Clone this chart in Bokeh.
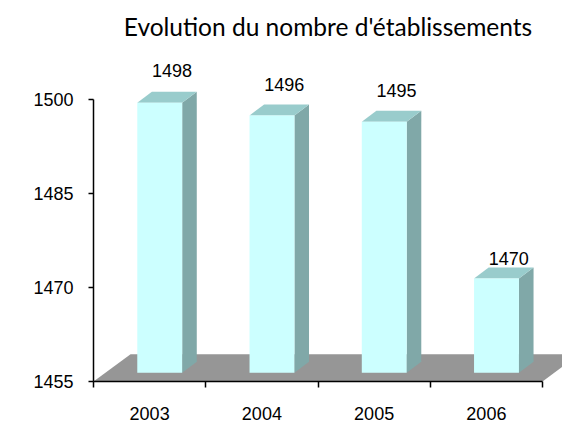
from bokeh.plotting import figure
from bokeh.models import Range1d, FixedTicker, Title, LinearAxis, ColumnDataSource
from bokeh.embed import file_html
from bokeh.resources import INLINE
from bokeh.core.properties import value

# ---- data ----
years = ["2003", "2004", "2005", "2006"]
counts = [1498, 1496, 1495, 1470]
y_ticks = [1455, 1470, 1485, 1500]
y_base = 1455
y_top_tick = 1500
chart_title = "Evolution du nombre d'établissements"

# ---- 3D styling constants (offsets in data units) ----
HALF_W = 0.2
SHIFT_X, SHIFT_Y = 0.09, 1.4      # bar front sits a little back on the floor
DEPTH_X, DEPTH_Y = 0.13, 1.75     # bar depth
FLOOR_X, FLOOR_Y = 0.33, 4.36     # floor depth
LABEL_SCALE, LABEL_LIFT, LABEL_DX = 1.068, 3.57, 0.11  # perspective of labels

FRONT = "#ccffff"
SIDE = "#80a8a8"
TOP = "#99cccc"
FLOOR = "#969696"

n = len(years)
centers = [i + 0.5 for i in range(n)]
bounds_x = list(range(n + 1))

p = figure(width=562, height=422, output_backend="svg", toolbar_location=None,
           x_range=Range1d(0, 4.178), y_range=Range1d(1455, 1507.9),
           min_border_left=93, min_border_right=0, min_border_top=48,
           min_border_bottom=40, x_axis_type=None, y_axis_type=None)
p.outline_line_color = None
p.background_fill_color = "white"
p.border_fill_color = "white"

# floor
p.patch([0, n, n + FLOOR_X, FLOOR_X],
        [y_base, y_base, y_base + FLOOR_Y, y_base + FLOOR_Y],
        fill_color=FLOOR, line_color=None)

# bars
fl = [c + SHIFT_X - HALF_W for c in centers]
fr = [c + SHIFT_X + HALF_W for c in centers]
fb = [y_base + SHIFT_Y] * n
ft = [v + SHIFT_Y for v in counts]

side_xs = [[r, r + DEPTH_X, r + DEPTH_X, r] for r in fr]
side_ys = [[b, b + DEPTH_Y, t + DEPTH_Y, t] for b, t in zip(fb, ft)]
top_xs = [[l, l + DEPTH_X, r + DEPTH_X, r] for l, r in zip(fl, fr)]
top_ys = [[t, t + DEPTH_Y, t + DEPTH_Y, t] for t in ft]

p.patches(side_xs, side_ys, fill_color=SIDE, line_color=None)
p.patches(top_xs, top_ys, fill_color=TOP, line_color=None)
p.quad(left=fl, right=fr, bottom=fb, top=ft, fill_color=FRONT, line_color=None)

# data labels
lab = ColumnDataSource(dict(
    x=[c + SHIFT_X + LABEL_DX for c in centers],
    y=[y_base + (v - y_base) * LABEL_SCALE + LABEL_LIFT for v in counts],
    t=[str(v) for v in counts]))
p.text(x="x", y="y", text="t", source=lab, text_align="center",
       text_baseline="middle",
       text_font=value("Liberation Sans"), text_font_size="18px",
       text_color="black")

# axes
yaxis = LinearAxis(ticker=FixedTicker(ticks=y_ticks), bounds=(y_base, y_top_tick),
                   major_tick_out=5, major_tick_in=0, minor_tick_out=0,
                   minor_tick_in=0, major_label_standoff=15,
                   axis_line_color="black", axis_line_width=1.5,
                   major_tick_line_color="black", major_tick_line_width=1.5,
                   major_label_text_font="Liberation Sans",
                   major_label_text_font_size="18px",
                   major_label_text_color="black")
p.add_layout(yaxis, "left")

xaxis = LinearAxis(ticker=FixedTicker(ticks=centers, minor_ticks=bounds_x),
                   major_label_overrides={c: y for c, y in zip(centers, years)},
                   bounds=(0, n), major_tick_out=0, major_tick_in=0,
                   minor_tick_out=6, minor_tick_in=0, major_label_standoff=19,
                   axis_line_color="black", axis_line_width=1.5,
                   minor_tick_line_color="black", minor_tick_line_width=1.5,
                   major_label_text_font="Liberation Sans",
                   major_label_text_font_size="18px",
                   major_label_text_color="black")
p.add_layout(xaxis, "below")

p.title = Title(text=chart_title, align="center", text_font="Lato",
                text_font_size="24.5px", text_font_style="normal",
                text_color="black", standoff=18)

open("out.html", "w").write(file_html(p, INLINE))
